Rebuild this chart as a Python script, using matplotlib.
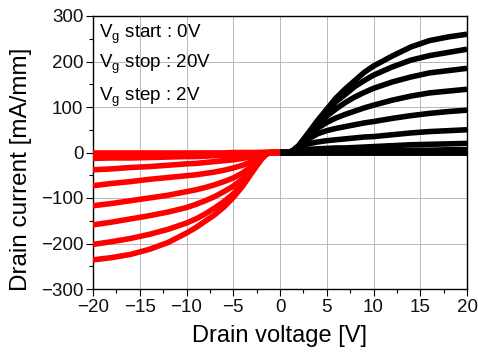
import matplotlib
matplotlib.use("Agg")
import matplotlib.pyplot as plt
from matplotlib.ticker import MultipleLocator

plt.rcParams['font.family'] = ['Liberation Sans', 'DejaVu Sans']
plt.rcParams['mathtext.fontset'] = 'custom'
plt.rcParams['mathtext.rm'] = 'Liberation Sans'

# Positive drain voltage sweep (black), Vg = 20 ... 0 V
vd_pos = [0, 1, 1.5, 2, 3, 4, 5, 6, 7, 8, 9, 10, 12, 14, 16, 18, 20]
id_pos = [
    [0, 0, 6, 15, 42, 70, 95, 120, 140, 158, 176, 190, 212, 232, 246, 254, 260],
    [0, 0, 6, 15, 41, 66, 90, 112, 128, 145, 158, 170, 188, 203, 213, 220, 227],
    [0, 0, 6, 14, 39, 61, 80, 96, 110, 122, 132, 141, 155, 166, 175, 180, 185],
    [0, 0, 5, 13, 35, 53, 66, 76, 84, 91, 98, 104, 115, 124, 131, 135, 139],
    [0, 0, 5, 12, 29, 41, 48, 53, 57, 61, 65, 68, 75, 81, 86, 90, 93],
    [0, 0, 4, 9, 19, 23, 26, 28, 30, 32, 34, 35, 39, 43, 46, 48, 50],
    [0, 0, 3, 5, 7, 8, 9, 10, 10, 11, 12, 13, 15, 17, 18, 19, 20],
    [0, 0, 1, 2, 2, 3, 3, 3, 3, 3, 4, 4, 4, 5, 5, 6, 6],
    [0, 0, 0, 0, 1, 1, 1, 1, 1, 1, 1, 2, 2, 2, 2, 2, 2],
    [0] * 17,
    [0] * 17,
]

# Negative drain voltage sweep (red)
vd_neg = [-20, -18, -16, -14, -12, -10, -9, -8, -7, -6, -5, -4, -3, -2, -1.5, -1, 0]
id_neg = [
    [-236, -231, -224, -213, -198, -177, -165, -151, -137, -120, -99, -74, -44, -15, -4, 0, 0],
    [-202, -196, -189, -180, -169, -155, -146, -135, -122, -108, -91, -69, -42, -15, -4, 0, 0],
    [-159, -153, -146, -139, -131, -121, -114, -106, -97, -86, -74, -58, -37, -14, -4, 0, 0],
    [-117, -112, -106, -100, -94, -86, -82, -77, -71, -64, -56, -45, -30, -12, -3, 0, 0],
    [-73, -68, -64, -59, -55, -51, -49, -46, -43, -39, -34, -28, -20, -9, -3, 0, 0],
    [-38, -36, -33, -31, -28, -25, -24, -22, -20, -18, -16, -13, -9, -4, -1, 0, 0],
    [-13, -12, -12, -11, -10, -9, -9, -8, -7, -7, -6, -5, -3, -1, 0, 0, 0],
    [-4, -4, -4, -3, -3, -3, -3, -2, -2, -2, -2, -1, -1, 0, 0, 0, 0],
    [-1, -1, -1, -1, -1, -1, -1, -1, -1, -1, 0, 0, 0, 0, 0, 0, 0],
]

annotations = [r'$\mathregular{V_g}$ start : 0V',
               r'$\mathregular{V_g}$ stop : 20V',
               r'$\mathregular{V_g}$ step : 2V']

fig = plt.figure(figsize=(4.78, 3.57), dpi=100)
ax = fig.add_axes([93 / 478, 1 - 289 / 357, (467 - 93) / 478, (289 - 16) / 357])

for ys in id_pos:
    ax.plot(vd_pos, ys, color='black', lw=4, solid_capstyle='butt',
            solid_joinstyle='round', zorder=3)
for ys in id_neg:
    ax.plot(vd_neg, ys, color='#ff0000', lw=4, solid_capstyle='butt',
            solid_joinstyle='round', zorder=4)

ax.set_xlim(-20, 20)
ax.set_ylim(-300, 300)
ax.xaxis.set_major_locator(MultipleLocator(5))
ax.xaxis.set_minor_locator(MultipleLocator(2.5))
ax.yaxis.set_major_locator(MultipleLocator(100))
ax.yaxis.set_minor_locator(MultipleLocator(50))
ax.tick_params(which='major', direction='out', length=5, width=0.8,
               labelsize=13.5, top=False, right=False, pad=2,
               labelcolor='#111111')
ax.tick_params(which='minor', direction='out', length=3, width=0.8,
               top=False, right=False)
ax.grid(True, which='major', color='#b8b8b8', lw=0.7, zorder=0)
for s in ax.spines.values():
    s.set_linewidth(1.0)

ax.set_xlabel('Drain voltage [V]', fontsize=17, labelpad=7)
ax.set_ylabel('Drain current [mA/mm]', fontsize=17.5)
ax.yaxis.set_label_coords(-0.163, 0.44)

ys_txt = [0.919, 0.81, 0.687]
for t, yy in zip(annotations, ys_txt):
    ax.text(0.015, yy, t, transform=ax.transAxes, fontsize=13.5,
            va='baseline', ha='left', zorder=5)

fig.savefig('out.png', dpi=100)
